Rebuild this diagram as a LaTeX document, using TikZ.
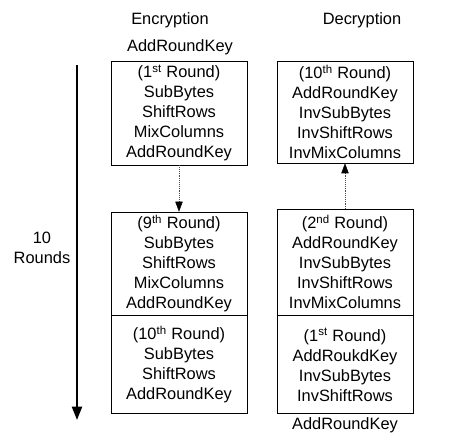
\documentclass[tikz,border=0pt]{standalone}
\usepackage{fontspec}
\setmainfont{Liberation Sans}
\usetikzlibrary{arrows.meta,positioning,scopes}
\begin{document}
\begin{tikzpicture}[
    x=0.75pt,y=-0.75pt,
    every node/.style={font=\fontsize{12.3}{15}\selectfont,align=center},
    stage/.style={draw=black,thin,minimum width=102pt,inner sep=0pt},
    flow/.style={densely dotted,draw=black!70,-{Triangle[length=7.5pt,width=5.5pt,color=black]}},
    rounds/.style={line width=1.5pt,-{Triangle[length=10pt,width=7.5pt]}},
]
    \useasboundingbox (0,0) rectangle (449,434);
    \node (enc) at (170,20) {Encryption};
    \node (dec) at (362,20) {Decryption};
    \node (inkey) at (180,47) {AddRoundKey};
    % encryption rounds
    \node[stage,minimum height=78pt] (r1) at (179,113)
        {(1\textsuperscript{st} Round)\\SubBytes\\ShiftRows\\MixColumns\\AddRoundKey};
    \node[stage,minimum height=77.25pt] (r9) at (179,263.5)
        {(9\textsuperscript{th} Round)\\SubBytes\\ShiftRows\\MixColumns\\AddRoundKey};
    \node[stage,minimum height=73.5pt,anchor=north] (r10) at (r9.south)
        {(10\textsuperscript{th} Round)\\SubBytes\\ShiftRows\\AddRoundKey};
    % decryption rounds
    \node[stage,minimum height=76.5pt] (i10) at (345,112)
        {(10\textsuperscript{th} Round)\\AddRoundKey\\InvSubBytes\\InvShiftRows\\InvMixColumns};
    \node[stage,minimum height=79.5pt] (i2) at (345,262)
        {(2\textsuperscript{nd} Round)\\AddRoundKey\\InvSubBytes\\InvShiftRows\\InvMixColumns};
    \node[stage,minimum height=73.5pt,anchor=north] (i1) at (i2.south)
        {(1\textsuperscript{st} Round)\\AddRoukdKey\\InvSubBytes\\InvShiftRows};
    \node (outkey) at (345,425) {AddRoundKey};
    {[flow]
        \draw (r1) -- (r9);
        \draw (i2) -- (i10);
    }
    % round counter
    \coordinate (first) at (77,65);
    \coordinate (last) at (77,420);
    \draw[rounds] (first) -- (last);
    \node (count) at (42,248) {10\\Rounds};
\end{tikzpicture}
\end{document}
